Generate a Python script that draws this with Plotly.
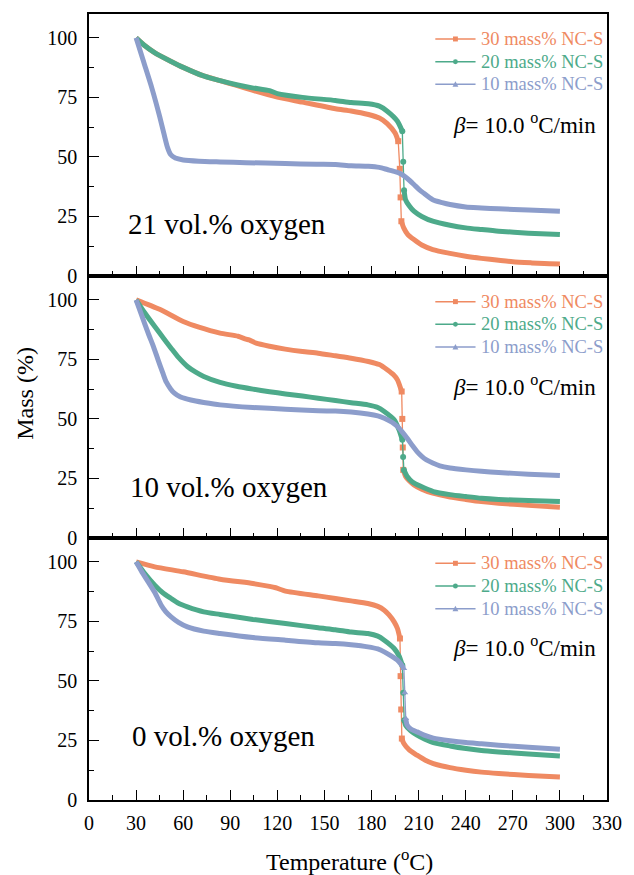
import plotly.graph_objects as go
from plotly.subplots import make_subplots

# ---------------- data ----------------
series_names = ["30 mass% NC-S", "20 mass% NC-S", "10 mass% NC-S"]
panel_labels = ["21 vol.% oxygen", "10 vol.% oxygen", "0 vol.% oxygen"]
x_ticks = [0, 30, 60, 90, 120, 150, 180, 210, 240, 270, 300, 330]
y_ticks = [0, 25, 50, 75, 100]

# 21 vol.% oxygen
t21_30 = [30, 35, 42, 52, 60, 73, 83.5, 94, 104, 120, 136, 157, 167, 178, 185, 190, 195, 197, 198, 198.5, 199, 200.5, 203, 207, 212, 219, 230, 240, 250, 261, 270, 282, 290, 300]
m21_30 = [100, 97, 93.7, 90.2, 87.6, 84, 82, 80, 78, 75.1, 73, 70.2, 69.3, 67.8, 66.3, 64, 60, 56.6, 45, 33, 23, 20.2, 17.5, 15.3, 13, 11.1, 9.5, 8.3, 7.4, 6.6, 6.0, 5.5, 5.2, 5.0]
t21_20 = [30, 35, 42, 52, 60, 73, 83.5, 94, 104, 115, 120, 136, 157, 167, 178, 185, 190, 196.5, 199.6, 200.2, 200.7, 201.7, 204, 207, 212, 219, 230, 240, 250, 261, 280, 300]
m21_20 = [100, 97, 93.7, 90.2, 87.6, 84, 82, 80.3, 79, 77.8, 76.6, 75, 73.7, 72.8, 72.3, 71.3, 69.2, 65, 60.8, 48, 36, 32, 29.5, 27.2, 25, 23, 21.3, 20.2, 19.5, 18.8, 18, 17.4]
t21_10 = [30, 35, 40, 45, 48, 50, 52, 55, 60, 70, 83.5, 100, 125, 145, 157, 167, 178, 185, 190, 195, 198.5, 203, 207, 210, 213, 219, 225, 230, 240, 250, 261, 280, 300]
m21_10 = [100, 89.5, 79, 67, 59, 54, 51, 49.5, 48.7, 48.2, 47.9, 47.6, 47.2, 46.9, 46.8, 46.3, 46.1, 45.6, 44.7, 43.8, 42.9, 40.8, 38.4, 36.5, 34.9, 32, 30.8, 30, 29, 28.6, 28.2, 27.7, 27.2]

# 10 vol.% oxygen
t10_30 = [30, 45, 60, 70, 83.5, 95, 100, 102, 106.5, 115, 125, 136, 146, 157, 167, 178, 185, 190, 194, 196.5, 199.2, 199.6, 199.9, 200.2, 201.7, 204, 207, 212, 219, 230, 240, 250, 261, 280, 300]
m10_30 = [100, 96, 90.9, 88.5, 86, 84.7, 83.5, 83.2, 81.8, 80.5, 79.3, 78.3, 77.6, 76.5, 75.5, 74.1, 72.8, 70.6, 68.5, 66.4, 61.5, 50, 38, 28.6, 25.8, 24, 22.3, 20.5, 18.8, 17.2, 16.2, 15.3, 14.6, 13.7, 12.9]
t10_20 = [30, 35, 41.9, 47, 52.3, 57, 62.7, 68, 73.1, 83.5, 94, 104.4, 115, 125.2, 136, 146, 157, 167, 177.7, 184, 188.1, 194.4, 197.5, 199.6, 200.1, 200.6, 202.7, 206, 211, 219.4, 230, 240.2, 250, 261, 280, 300]
m10_20 = [100, 95, 88.8, 84.3, 79.7, 75.8, 72, 69.6, 67.8, 65.3, 63.7, 62.5, 61.4, 60.5, 59.6, 58.7, 57.7, 56.8, 55.9, 54.8, 53.1, 49.6, 45.4, 41.2, 34, 28.6, 25.8, 23.5, 21.8, 19.5, 18.2, 17.4, 16.7, 16.2, 15.7, 15.3]
t10_10 = [30, 33, 37.7, 41, 44, 47, 49.2, 52, 54.4, 58, 62.7, 68, 73.1, 83.5, 104.4, 125.2, 146, 157, 167, 177.7, 184, 188.1, 193, 196.5, 199.5, 202.7, 206, 209, 212, 215, 219, 223.5, 230, 240.2, 250, 261, 280, 300]
m10_10 = [100, 94.5, 86, 80.5, 74.8, 69.3, 65.5, 62.6, 60.8, 59.3, 58.3, 57.5, 56.9, 55.9, 54.8, 54.1, 53.4, 53.3, 52.9, 52.1, 51.3, 50.3, 48.6, 46.8, 44.6, 41.9, 38.8, 36.3, 34.3, 32.8, 31.5, 30.3, 29.4, 28.6, 28, 27.5, 26.8, 26.2]

# 0 vol.% oxygen
t0_30 = [30, 41.9, 60, 83.5, 104.4, 115, 119, 125.2, 146, 157, 167, 177.7, 184, 188.1, 191, 194.4, 196.5, 198.1, 198.5, 198.9, 199.3, 200.6, 204, 209, 214, 219.4, 230, 240.2, 250, 261, 280, 300]
m0_30 = [100, 97.9, 95.8, 92.7, 90.9, 89.7, 89.1, 87.7, 85.7, 84.6, 83.6, 82.5, 81.3, 79.7, 77.8, 74.8, 72, 67.8, 52, 38, 25.8, 23.7, 21, 18.8, 16.8, 15.3, 13.6, 12.5, 11.7, 11.1, 10.3, 9.7]
t0_20 = [30, 35, 41.9, 47, 52.3, 57, 62.7, 73.1, 83.5, 104.4, 125.2, 146, 157, 167, 177.7, 184, 188.1, 194.4, 197.5, 199.6, 200.2, 200.8, 201.7, 205, 209, 214, 219.4, 230, 240.2, 250, 261, 280, 300]
m0_20 = [100, 95.5, 90.2, 87, 84.6, 82.6, 81.1, 79, 77.9, 75.8, 74.1, 72.3, 71.5, 70.5, 69.9, 68.8, 67.1, 63.6, 60.5, 56.6, 45, 33.5, 31.4, 29, 27.2, 25.5, 24.1, 22.7, 21.6, 20.8, 20.2, 19.3, 18.5]
t0_10 = [30, 33.5, 37.7, 42, 46, 49, 52.3, 57, 62.7, 73.1, 83.5, 104.4, 125.2, 146, 157, 167, 177.7, 184, 188.1, 193, 196.5, 199, 200.6, 201.2, 201.8, 202.7, 205, 209, 214, 219.4, 230, 240.2, 250, 261, 280, 300]
m0_10 = [100, 96, 91.6, 87, 81.8, 79, 76.9, 74.6, 72.7, 70.9, 69.9, 68.2, 67.1, 66, 65.7, 65.2, 64.3, 63.4, 62.2, 60.3, 58.7, 56.8, 55.2, 45, 34.2, 31.4, 29.8, 28.6, 27.1, 26, 24.9, 24.1, 23.6, 23, 22.1, 21.3]

panels = [
    [(t21_30, m21_30), (t21_20, m21_20), (t21_10, m21_10)],
    [(t10_30, m10_30), (t10_20, m10_20), (t10_10, m10_10)],
    [(t0_30, m0_30), (t0_20, m0_20), (t0_10, m0_10)],
]

colors = ["#EF8A62", "#4DAA8A", "#8C9DCB"]
symbols = ["square", "circle", "triangle-up"]
FONT = "Liberation Serif, Times New Roman, Times, serif"

W, H = 634, 875
ml, mr, mt, mb = 89, 17, 13, 75
pw, ph = W - ml - mr, H - mt - mb


def px(xa):
    return (xa - ml) / pw


def py(ya):
    return 1 - (ya - mt) / ph


fig = make_subplots(rows=3, cols=1, vertical_spacing=0)


def split_steep(t, m, thr=6.0):
    """Split a series into smooth (thick) part and steep (thin + markers) part."""
    tx, my, sx, sy = [], [], [], []
    n = len(t)
    steep = [abs((m[i + 1] - m[i]) / (t[i + 1] - t[i])) > thr for i in range(n - 1)]
    for i in range(n - 1):
        if not steep[i]:
            if not tx or tx[-1] != t[i]:
                if tx:
                    tx.append(None); my.append(None)
                tx.append(t[i]); my.append(m[i])
            tx.append(t[i + 1]); my.append(m[i + 1])
        else:
            if not sx or sx[-1] != t[i]:
                if sx:
                    sx.append(None); sy.append(None)
                sx.append(t[i]); sy.append(m[i])
            sx.append(t[i + 1]); sy.append(m[i + 1])
    return tx, my, sx, sy


for p, series in enumerate(panels):
    row = p + 1
    for s, (t, m) in enumerate(series):
        tx, my, sx, sy = split_steep(t, m)
        if sx:
            fig.add_trace(go.Scatter(x=sx, y=sy, mode="lines+markers",
                                     line=dict(color=colors[s], width=1.3),
                                     marker=dict(symbol=symbols[s], size=6, color=colors[s]),
                                     showlegend=False, hoverinfo="skip", name=series_names[s]),
                          row=row, col=1)
        fig.add_trace(go.Scatter(x=tx, y=my, mode="lines",
                                 line=dict(color=colors[s], width=5, shape="spline", smoothing=0.6),
                                 connectgaps=False, showlegend=False, hoverinfo="skip",
                                 name=series_names[s]), row=row, col=1)

axis_common = dict(showline=True, linecolor="black", linewidth=1.5, mirror=True,
                   ticks="inside", tickcolor="black", tickwidth=1.4,
                   showgrid=False, zeroline=False,
                   tickfont=dict(family=FONT, size=20, color="black"))

for r in range(1, 4):
    fig.update_xaxes(range=[0, 330], tickvals=x_ticks, ticklen=10,
                     showticklabels=(r == 3), ticklabelstandoff=4,
                     minor=dict(dtick=15, ticks="inside", ticklen=5, tickcolor="black", tickwidth=1.4, showgrid=False),
                     row=r, col=1, **axis_common)
    fig.update_yaxes(range=[0, 110], tickvals=y_ticks, ticklen=10,
                     ticklabelstandoff=6,
                     minor=dict(tick0=0, dtick=12.5, ticks="inside", ticklen=5, tickcolor="black", tickwidth=1.4, showgrid=False),
                     row=r, col=1, **axis_common)

# panel labels
label_pos = [(23.6, 22), (24.6, 21.3), (26, 26.8)]
for p in range(3):
    xr = "x" if p == 0 else f"x{p+1}"
    yr = "y" if p == 0 else f"y{p+1}"
    fig.add_annotation(x=label_pos[p][0], y=label_pos[p][1], xref=xr, yref=yr, text=panel_labels[p],
                       showarrow=False, xanchor="left", yanchor="middle",
                       font=dict(family=FONT, size=29, color="black"))

# heating rate
beta_y = [123, 385, 646]
for p in range(3):
    fig.add_annotation(x=px(608), y=py(beta_y[p]), xref="paper", yref="paper",
                       text="<i>β</i>= 10.0 <sup>o</sup>C/min",
                       showarrow=False, xanchor="right", yanchor="middle",
                       font=dict(family=FONT, size=23, color="black"))

# manual legends (line + marker + coloured text)
legend_top = [38, 301, 563]
row_gap = 22.7
shapes = []
for p in range(3):
    for s in range(3):
        yc = legend_top[p] + s * row_gap
        shapes.append(dict(type="line", xref="paper", yref="paper",
                           x0=px(442), x1=px(483), y0=py(yc), y1=py(yc),
                           line=dict(color=colors[s], width=1.5)))
        cx = 462.5
        if symbols[s] == "square":
            shapes.append(dict(type="rect", xref="paper", yref="paper",
                               x0=px(cx - 2.5), x1=px(cx + 2.5), y0=py(yc - 2.5), y1=py(yc + 2.5),
                               fillcolor=colors[s], line=dict(width=0)))
        elif symbols[s] == "circle":
            shapes.append(dict(type="circle", xref="paper", yref="paper",
                               x0=px(cx - 2.5), x1=px(cx + 2.5), y0=py(yc - 2.5), y1=py(yc + 2.5),
                               fillcolor=colors[s], line=dict(width=0)))
        else:
            x0, x1, x2 = px(cx - 3), px(cx + 3), px(cx)
            ya, yb = py(yc + 2.5), py(yc - 3)
            shapes.append(dict(type="path", xref="paper", yref="paper",
                               path=f"M {x0} {ya} L {x1} {ya} L {x2} {yb} Z",
                               fillcolor=colors[s], line=dict(width=0)))
        fig.add_annotation(x=px(487), y=py(yc), xref="paper", yref="paper",
                           text=series_names[s], showarrow=False, xanchor="left", yanchor="middle",
                           font=dict(family=FONT, size=18.5, color=colors[s]))
fig.update_layout(shapes=shapes)

fig.add_annotation(x=px(23), y=py(393), xref="paper", yref="paper", text="Mass (%)", textangle=-90,
                   showarrow=False, xanchor="center", yanchor="middle",
                   font=dict(family=FONT, size=24, color="black"))
fig.add_annotation(x=px(355), y=py(860), xref="paper", yref="paper", text="Temperature (<sup>o</sup>C)",
                   showarrow=False, xanchor="center", yanchor="middle",
                   font=dict(family=FONT, size=24, color="black"))

fig.update_layout(width=W, height=H, margin=dict(l=ml, r=mr, t=mt, b=mb),
                  paper_bgcolor="white", plot_bgcolor="white", showlegend=False,
                  font=dict(family=FONT, color="black"))

fig.write_html("out.html")
